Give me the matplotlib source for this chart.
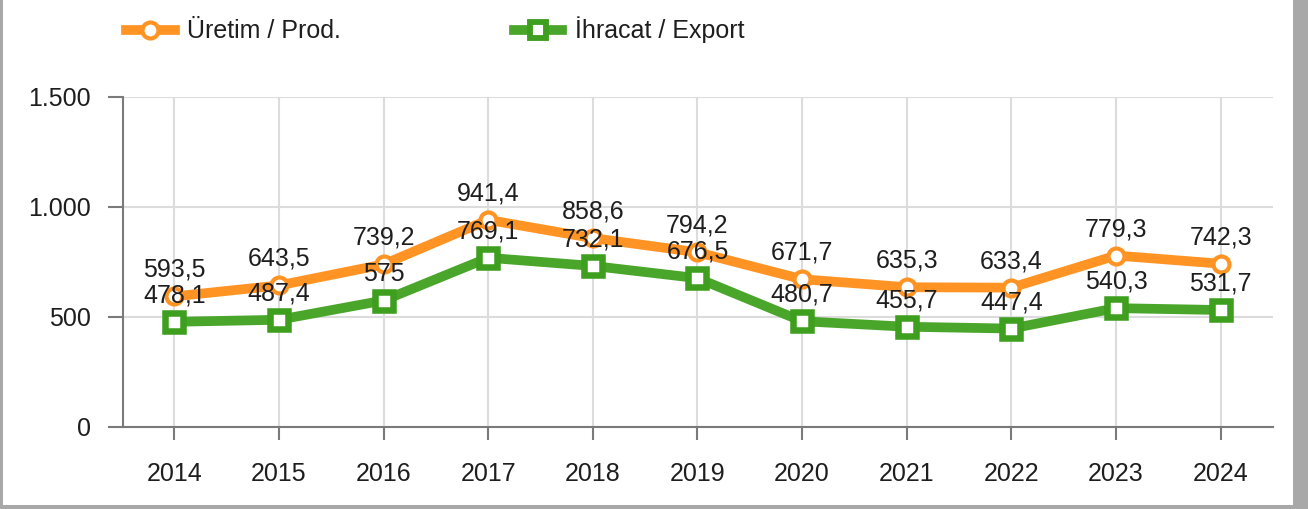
import matplotlib.pyplot as plt
from matplotlib.patches import Rectangle
from matplotlib.lines import Line2D

plt.rcParams['font.family'] = ['Liberation Sans', 'DejaVu Sans']

#data
years = ['2014', '2015', '2016', '2017', '2018', '2019', '2020', '2021', '2022', '2023', '2024']
prod = [593.5, 643.5, 739.2, 941.4, 858.6, 794.2, 671.7, 635.3, 633.4, 779.3, 742.3]
export = [478.1, 487.4, 575, 769.1, 732.1, 676.5, 480.7, 455.7, 447.4, 540.3, 531.7]
prod_labels = ['593,5', '643,5', '739,2', '941,4', '858,6', '794,2', '671,7', '635,3', '633,4', '779,3', '742,3']
export_labels = ['478,1', '487,4', '575', '769,1', '732,1', '676,5', '480,7', '455,7', '447,4', '540,3', '531,7']
yticks = [0, 500, 1000, 1500]
ytick_labels = ['0', '500', '1.000', '1.500']

orange = '#FF9424'
green = '#4AA62A'
green_edge = '#3E9E1E'
txt = '#1e1e1e'
fs = 18

fig = plt.figure(figsize=(13.08, 5.09), dpi=100)
fig.patch.set_facecolor('#a8a8a8')
#white card with shadow at right and bottom
fig.patches.append(Rectangle((3 / 1308, 4 / 509), 1290 / 1308, 505 / 509,
                             transform=fig.transFigure, facecolor='white',
                             edgecolor='none', zorder=-5))

ax = fig.add_axes([123 / 1308, (509 - 427) / 509, (1273 - 123) / 1308, (427 - 97) / 509])
ax.set_facecolor('white')
x = list(range(len(years)))

ax.plot(x, prod, color=orange, lw=7, marker='o', ms=11.5, mfc='white',
        mec=orange, mew=3, zorder=4)
ax.plot(x, export, color=green, lw=7, marker='s', ms=12.6, mfc='white',
        mec=green_edge, mew=4.7, zorder=3)

for i in x:
    ax.annotate(prod_labels[i], (i, prod[i]), xytext=(0, 14), textcoords='offset points',
                ha='center', va='baseline', fontsize=fs, color=txt, zorder=6)
    ax.annotate(export_labels[i], (i, export[i]), xytext=(0, 14), textcoords='offset points',
                ha='center', va='baseline', fontsize=fs, color=txt, zorder=6)

ax.set_xlim(-0.49, 10.5)
ax.set_ylim(0, 1500)
ax.set_xticks(x)
ax.set_xticklabels(years)
ax.set_yticks(yticks)
ax.set_yticklabels(ytick_labels)

ax.grid(True, color='#dcdcdc', lw=1.5, zorder=0)
ax.set_axisbelow(True)
for s in ['top', 'right']:
    ax.spines[s].set_visible(False)
for s in ['left', 'bottom']:
    ax.spines[s].set_color('#7a7a7a')
    ax.spines[s].set_linewidth(1.5)
ax.tick_params(axis='y', length=11, width=1.5, color='#7a7a7a', pad=12,
               labelsize=fs, labelcolor=txt)
ax.tick_params(axis='x', length=9.5, width=1.5, color='#7a7a7a', pad=16,
               labelsize=fs, labelcolor=txt)

#legend at the top
handles = [Line2D([], [], color=orange, lw=7, marker='o', ms=11.5, mfc='white', mec=orange, mew=3),
           Line2D([], [], color=green, lw=7, marker='s', ms=11, mfc='white', mec=green_edge, mew=4.2)]
fig.legend(handles, ['Üretim / Prod.', 'İhracat / Export'], loc='center left',
           bbox_to_anchor=(126 / 1308, 1 - 30 / 509), ncol=2, frameon=False,
           handlelength=1.95, handletextpad=0.5, columnspacing=6.9,
           fontsize=fs, labelcolor=txt, borderaxespad=0, borderpad=0)

fig.savefig('out.png', dpi=100, facecolor=fig.get_facecolor())
